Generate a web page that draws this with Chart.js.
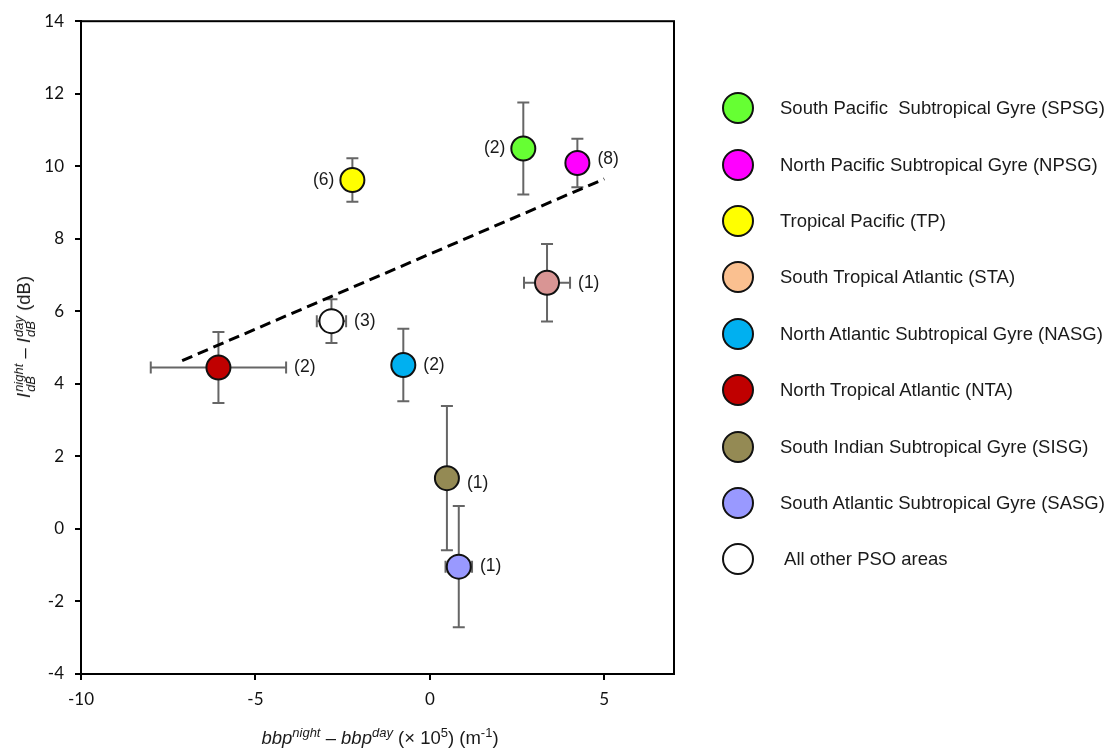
<!DOCTYPE html>
<html>
<head>
<meta charset="utf-8">
<script src="https://cdn.jsdelivr.net/npm/chart.js@4.4.0/dist/chart.umd.min.js"></script>
<style>
    body { margin: 0; background: #fff; }
    #wrap { position: relative; width: 1114px; height: 752px; font-family: "Liberation Sans", Arial, sans-serif; color: #1a1a1a; }
    #c { position: absolute; left: 0; top: 0; }
    .axisTitle { position: absolute; white-space: nowrap; font-size: 18.5px; transform: translate(-50%, -50%); }
    .yTitle { transform: translate(-50%, -50%) rotate(-90deg); }
    .axisTitle sup { font-size: 13px; vertical-align: 7px; line-height: 0; }
    .stack { display: inline-flex; flex-direction: column; font-size: 13px; line-height: 12px; vertical-align: 7px; font-style: italic; margin-left: 1px; }
    #legend { position: absolute; left: 722px; top: 80px; }
    .legendItem { display: flex; align-items: center; height: 56.4px; font-size: 18.5px; white-space: pre; }
    .legendDot { width: 32px; height: 32px; box-sizing: border-box; border: 2px solid #111; border-radius: 50%; margin-right: 26px; }
</style>
</head>
<body>
<div id="wrap">
    <canvas id="c" width="1114" height="752"></canvas>
    <div class="axisTitle yTitle" style="left:25px; top:337px;"><i>I</i><span class="stack"><span>night</span><span>dB</span></span> – <i>I</i><span class="stack"><span>day</span><span>dB</span></span> (dB)</div>
    <div class="axisTitle" style="left:380px; top:738px;"><i>bbp</i><sup><i>night</i></sup> – <i>bbp</i><sup><i>day</i></sup> (× 10<sup>5</sup>) (m<sup>-1</sup>)</div>
    <div id="legend"></div>
</div>
<script>
// data
const regions = ['SPSG', 'NPSG', 'TP', 'STA', 'NASG', 'NTA', 'SISG', 'SASG', 'Other'];
const legendNames = [
    'South Pacific  Subtropical Gyre (SPSG)',
    'North Pacific Subtropical Gyre (NPSG)',
    'Tropical Pacific (TP)',
    'South Tropical Atlantic (STA)',
    'North Atlantic Subtropical Gyre (NASG)',
    'North Tropical Atlantic (NTA)',
    'South Indian Subtropical Gyre (SISG)',
    'South Atlantic Subtropical Gyre (SASG)',
    ' All other PSO areas'
];
const xVals = [2.68, 4.23, -2.22, 3.36, -0.76, -6.06, 0.49, 0.83, -2.82];
const yVals = [10.49, 10.09, 9.62, 6.79, 4.52, 4.45, 1.40, -1.04, 5.73];
const xErr = [0, 0, 0, 0.66, 0, 1.94, 0, 0.38, 0.42];
const yErr = [1.27, 0.67, 0.60, 1.07, 1.00, 0.98, 1.99, 1.67, 0.60];
const counts = [2, 8, 6, 1, 2, 2, 1, 1, 3];
const pointColors = ['#66FF33', '#FF00FF', '#FFFF00', '#D99594', '#00B0F0', '#C00000', '#948A54', '#9999FF', '#FFFFFF'];
const legendColors = ['#66FF33', '#FF00FF', '#FFFF00', '#FAC090', '#00B0F0', '#C00000', '#948A54', '#9999FF', '#FFFFFF'];
const trendX = [-7.1, 5.0];
const trendY = [4.64, 9.65];
const xTicks = [-10, -5, 0, 5];
const yTicks = [-4, -2, 0, 2, 4, 6, 8, 10, 12, 14];

// label placement ('L' = left of the point)
const labelSide = ['L', 'R', 'L', 'R', 'R', 'R', 'R', 'R', 'R'];
const labelDy = [0, -4, 0, 0, 0, 0, 5, 0, 0];

document.addEventListener('DOMContentLoaded', () => {

    //legend
    let legendDiv = document.querySelector('#legend');
    regions.forEach((r, i) => {
        let item = document.createElement('div');
        item.className = 'legendItem';
        let dot = document.createElement('div');
        dot.className = 'legendDot';
        dot.style.backgroundColor = legendColors[i];
        let txt = document.createElement('span');
        txt.textContent = legendNames[i];
        item.appendChild(dot);
        item.appendChild(txt);
        legendDiv.appendChild(item);
    });

    const radius = 12;

    //error bars, drawn under the points
    let errorBars = {
        id: 'errorBars',
        beforeDatasetsDraw(chart) {
            let ctx = chart.ctx;
            let xs = chart.scales.x, ys = chart.scales.y;
            ctx.save();
            ctx.strokeStyle = '#666666';
            ctx.lineWidth = 2;
            for (let i = 0; i < xVals.length; i++) {
                let cx = xs.getPixelForValue(xVals[i]);
                let cy = ys.getPixelForValue(yVals[i]);
                if (yErr[i] > 0) {
                    let t = ys.getPixelForValue(yVals[i] + yErr[i]);
                    let b = ys.getPixelForValue(yVals[i] - yErr[i]);
                    ctx.beginPath();
                    ctx.moveTo(cx, t); ctx.lineTo(cx, b);
                    ctx.moveTo(cx - 6, t); ctx.lineTo(cx + 6, t);
                    ctx.moveTo(cx - 6, b); ctx.lineTo(cx + 6, b);
                    ctx.stroke();
                }
                if (xErr[i] > 0) {
                    let l = xs.getPixelForValue(xVals[i] - xErr[i]);
                    let r = xs.getPixelForValue(xVals[i] + xErr[i]);
                    ctx.beginPath();
                    ctx.moveTo(l, cy); ctx.lineTo(r, cy);
                    ctx.moveTo(l, cy - 6); ctx.lineTo(l, cy + 6);
                    ctx.moveTo(r, cy - 6); ctx.lineTo(r, cy + 6);
                    ctx.stroke();
                }
            }
            ctx.restore();
        },
        afterDatasetsDraw(chart) {
            //(n) labels
            let ctx = chart.ctx;
            let xs = chart.scales.x, ys = chart.scales.y;
            ctx.save();
            ctx.font = '17.5px "Liberation Sans", Arial, sans-serif';
            ctx.fillStyle = '#1a1a1a';
            ctx.textBaseline = 'middle';
            for (let i = 0; i < xVals.length; i++) {
                let cx = xs.getPixelForValue(xVals[i]);
                let cy = ys.getPixelForValue(yVals[i]) + labelDy[i];
                let txt = '(' + counts[i] + ')';
                if (labelSide[i] == 'L') {
                    ctx.textAlign = 'right';
                    ctx.fillText(txt, cx - radius - 6, cy);
                } else {
                    let edge = Math.max(cx + radius, xs.getPixelForValue(xVals[i] + xErr[i]));
                    ctx.textAlign = 'left';
                    ctx.fillText(txt, edge + 8, cy);
                }
            }
            ctx.restore();
        },
        afterDraw(chart) {
            //box around plot
            let a = chart.chartArea;
            let ctx = chart.ctx;
            ctx.save();
            ctx.strokeStyle = '#000';
            ctx.lineWidth = 2;
            ctx.strokeRect(a.left, a.top, a.right - a.left, a.bottom - a.top);
            ctx.restore();
        }
    };

    let tickFont = { family: 'Lato, "Liberation Sans", sans-serif', size: 17 };

    let chart = new Chart(document.querySelector('#c').getContext('2d'), {
        type: 'scatter',
        data: {
            datasets: [{
                label: 'areas',
                data: xVals.map((x, i) => ({ x: x, y: yVals[i] })),
                backgroundColor: pointColors,
                borderColor: '#111',
                borderWidth: 2,
                pointRadius: radius,
                pointHoverRadius: radius,
                order: 1
            }, {
                type: 'line',
                label: 'trend',
                data: trendX.map((x, i) => ({ x: x, y: trendY[i] })),
                borderColor: '#000',
                borderWidth: 3,
                borderDash: [11, 6],
                pointRadius: 0,
                fill: false,
                order: 2
            }]
        },
        options: {
            responsive: false,
            animation: false,
            layout: { padding: { left: 0, top: 16, right: 440, bottom: 38 } },
            plugins: { legend: { display: false }, tooltip: { enabled: false } },
            scales: {
                x: {
                    type: 'linear',
                    min: -10,
                    max: 7,
                    afterBuildTicks: s => { s.ticks = xTicks.map(v => ({ value: v })); },
                    afterFit: s => { s.height = 40; },
                    grid: { drawOnChartArea: false, tickLength: 6, color: '#000', lineWidth: 2 },
                    border: { color: '#000', width: 2 },
                    ticks: { font: tickFont, color: '#111', padding: 9, maxRotation: 0 }
                },
                y: {
                    type: 'linear',
                    min: -4,
                    max: 14,
                    afterBuildTicks: s => { s.ticks = yTicks.map(v => ({ value: v })); },
                    afterFit: s => { s.width = 81; },
                    grid: { drawOnChartArea: false, tickLength: 6, color: '#000', lineWidth: 2 },
                    border: { color: '#000', width: 2 },
                    ticks: { font: tickFont, color: '#111', padding: 11 }
                }
            }
        },
        plugins: [errorBars]
    });

})
</script>
</body>
</html>
